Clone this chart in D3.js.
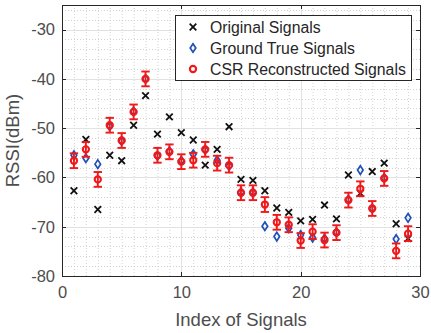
<!DOCTYPE html>
<html><head><meta charset="utf-8">
<script src="https://cdn.jsdelivr.net/npm/d3@7"></script>
<style>
html,body{margin:0;padding:0;background:#fff;}
svg{display:block;font-family:"Liberation Sans",Arial,Helvetica,sans-serif;}
</style></head><body>
<svg id="chart" width="431" height="333"></svg>
<script>
const indices = [1,2,3,4,5,6,7,8,9,10,11,12,13,14,15,16,17,18,19,20,21,22,23,24,25,26,27,28,29];
const original = [-62.7,-52.3,-66.5,-55.5,-56.6,-49.4,-43.4,-51.2,-47.7,-50.9,-52.4,-57.5,-54.3,-49.7,-60.4,-60.6,-62.7,-66.2,-67.1,-68.8,-68.5,-65.6,-68.4,-59.5,-63.2,-58.8,-57.1,-69.4,-72.4];
const groundTrue = [-55.5,-56.1,-57.3,-49.6,-52.6,-46.6,-40.0,-55.6,-54.7,-56.6,-55.3,-54.4,-56.5,-57.7,-63.0,-63.0,-69.9,-72.0,-70.3,-71.7,-72.2,-72.4,-71.1,-64.5,-58.5,-66.3,-60.1,-72.5,-68.2];
const reconstructed = [-56.6,-54.3,-60.4,-49.4,-52.5,-46.7,-40.0,-55.5,-54.8,-56.8,-56.5,-54.3,-57.1,-57.5,-63.1,-63.1,-65.5,-69.1,-69.6,-72.8,-71.0,-72.7,-71.2,-64.6,-62.3,-66.3,-60.2,-74.9,-71.4];
const errorHalf = [1.5,1.5,1.5,1.5,1.5,1.5,1.5,1.5,1.5,1.5,1.5,1.5,1.5,1.5,1.5,1.5,1.5,1.5,1.5,1.5,1.5,1.5,1.5,1.5,1.5,1.5,1.5,1.5,1.5];
const xTicks = [0,10,20,30];
const yTicks = [-80,-70,-60,-50,-40,-30];
const legendLabels = ["Original Signals","Ground True Signals","CSR Reconstructed Signals"];
const xLabel = "Index of Signals";
const yLabel = "RSSI(dBm)";

const svg = d3.select("#chart");
const L = 62, R = 420, T = 5, B = 276;
const x = d3.scaleLinear().domain([0,30]).range([L,R]);
const y = d3.scaleLinear().domain([-80,-25]).range([B,T]);

const axisCol = "#262626", textCol = "#4d4d4d";
const red = "#f01818", blue = "#1f4fb8";

// minor grid
const g = svg.append("g");
g.selectAll("line.mx").data(d3.range(1,30).filter(v=>v%10!==0)).join("line")
  .attr("x1",d=>x(d)+0.5).attr("x2",d=>x(d)+0.5).attr("y1",T).attr("y2",B)
  .attr("stroke","#c8c8c8").attr("stroke-width",0.8).attr("stroke-dasharray","1,2");
g.selectAll("line.my").data(d3.range(-78,-25,2).filter(v=>v%10!==0)).join("line")
  .attr("y1",d=>Math.round(y(d))+0.5).attr("y2",d=>Math.round(y(d))+0.5).attr("x1",L).attr("x2",R)
  .attr("stroke","#c8c8c8").attr("stroke-width",0.8).attr("stroke-dasharray","1,2");
// major grid
g.selectAll("line.Mx").data([10,20]).join("line")
  .attr("x1",d=>Math.round(x(d))+0.5).attr("x2",d=>Math.round(x(d))+0.5).attr("y1",T).attr("y2",B)
  .attr("stroke","#e2e2e2").attr("stroke-width",1);
g.selectAll("line.My").data([-70,-60,-50,-40,-30]).join("line")
  .attr("y1",d=>Math.round(y(d))+0.5).attr("y2",d=>Math.round(y(d))+0.5).attr("x1",L).attr("x2",R)
  .attr("stroke","#e2e2e2").attr("stroke-width",1);

// axes
const xAxisB = d3.axisBottom(x).tickValues(xTicks).tickSize(0).tickPadding(10);
const xAx = svg.append("g").attr("transform",`translate(0,${B})`).call(xAxisB);
xAx.select(".domain").remove();
xAx.selectAll("text").attr("fill",textCol).style("font-size","16.5px").style("font-family","'Liberation Sans',Arial,sans-serif");
const yAxisL = d3.axisLeft(y).tickValues(yTicks).tickSize(0).tickPadding(7).tickFormat(d=>"-"+Math.abs(d));
const yAx = svg.append("g").attr("transform",`translate(${L},0)`).call(yAxisL);
yAx.select(".domain").remove();
yAx.selectAll("text").attr("fill",textCol).style("font-size","16.5px").style("font-family","'Liberation Sans',Arial,sans-serif");

// inward tick marks
const tk = svg.append("g").attr("stroke",axisCol).attr("stroke-width",1);
xTicks.forEach(t=>{
  const px = Math.round(x(t))+0.5;
  tk.append("line").attr("x1",px).attr("x2",px).attr("y1",B).attr("y2",B-4);
  tk.append("line").attr("x1",px).attr("x2",px).attr("y1",T).attr("y2",T+4);
});
yTicks.forEach(t=>{
  const py = Math.round(y(t))+0.5;
  tk.append("line").attr("x1",L).attr("x2",L+4).attr("y1",py).attr("y2",py);
  tk.append("line").attr("x1",R).attr("x2",R-4).attr("y1",py).attr("y2",py);
});
svg.append("rect").attr("x",L+0.5).attr("y",T+0.5).attr("width",R-L).attr("height",B-T)
  .attr("fill","none").attr("stroke",axisCol).attr("stroke-width",1);

// labels
svg.append("text").attr("x",(L+R)/2).attr("y",326).attr("text-anchor","middle")
  .attr("fill",textCol).style("font-size","18.5px").text(xLabel);
svg.append("text").attr("transform",`translate(19,${(T+B)/2}) rotate(-90)`).attr("text-anchor","middle")
  .attr("fill",textCol).style("font-size","18.5px").text(yLabel);

// markers
const crossPath = s => `M${-s},${-s}L${s},${s}M${-s},${s}L${s},${-s}`;
const diamondPath = (w,h) => `M0,${-h}L${w},0L0,${h}L${-w},0Z`;

svg.append("g").selectAll("path").data(indices).join("path")
  .attr("transform",(d,i)=>`translate(${x(d)},${y(original[i])})`)
  .attr("d",crossPath(3.3)).attr("stroke","#111").attr("stroke-width",1.8).attr("fill","none");

svg.append("g").selectAll("path").data(indices).join("path")
  .attr("transform",(d,i)=>`translate(${x(d)},${y(groundTrue[i])})`)
  .attr("d",diamondPath(2.8,4.3)).attr("stroke",blue).attr("stroke-width",1.7).attr("fill","none");

const eb = svg.append("g").attr("stroke",red).attr("stroke-width",1.9).attr("fill","none");
indices.forEach((d,i)=>{
  const cx = x(d), y1 = y(reconstructed[i]-errorHalf[i]), y2 = y(reconstructed[i]+errorHalf[i]);
  eb.append("line").attr("x1",cx).attr("x2",cx).attr("y1",y1).attr("y2",y2);
  eb.append("line").attr("x1",cx-4.2).attr("x2",cx+4.2).attr("y1",y1).attr("y2",y1);
  eb.append("line").attr("x1",cx-4.2).attr("x2",cx+4.2).attr("y1",y2).attr("y2",y2);
  eb.append("circle").attr("cx",cx).attr("cy",y(reconstructed[i])).attr("r",3.1).attr("stroke-width",2.1);
});

// legend
const lg = svg.append("g");
lg.append("rect").attr("x",175.5).attr("y",15.5).attr("width",236).attr("height",65)
  .attr("fill","#fff").attr("stroke",axisCol).attr("stroke-width",1);
const rows = [27,48,69];
lg.append("path").attr("transform",`translate(193,${rows[0]})`).attr("d",crossPath(3.3))
  .attr("stroke","#111").attr("stroke-width",1.8).attr("fill","none");
lg.append("path").attr("transform",`translate(193,${rows[1]})`).attr("d",diamondPath(2.8,4.3))
  .attr("stroke",blue).attr("stroke-width",1.7).attr("fill","none");
lg.append("circle").attr("cx",193).attr("cy",rows[2]).attr("r",3.1)
  .attr("stroke",red).attr("stroke-width",2.1).attr("fill","none");
lg.selectAll("text").data(legendLabels).join("text")
  .attr("x",210).attr("y",(d,i)=>rows[i]).attr("dy","0.35em")
  .attr("fill","#262626").style("font-size","15.8px").text(d=>d);
</script>
</body></html>
